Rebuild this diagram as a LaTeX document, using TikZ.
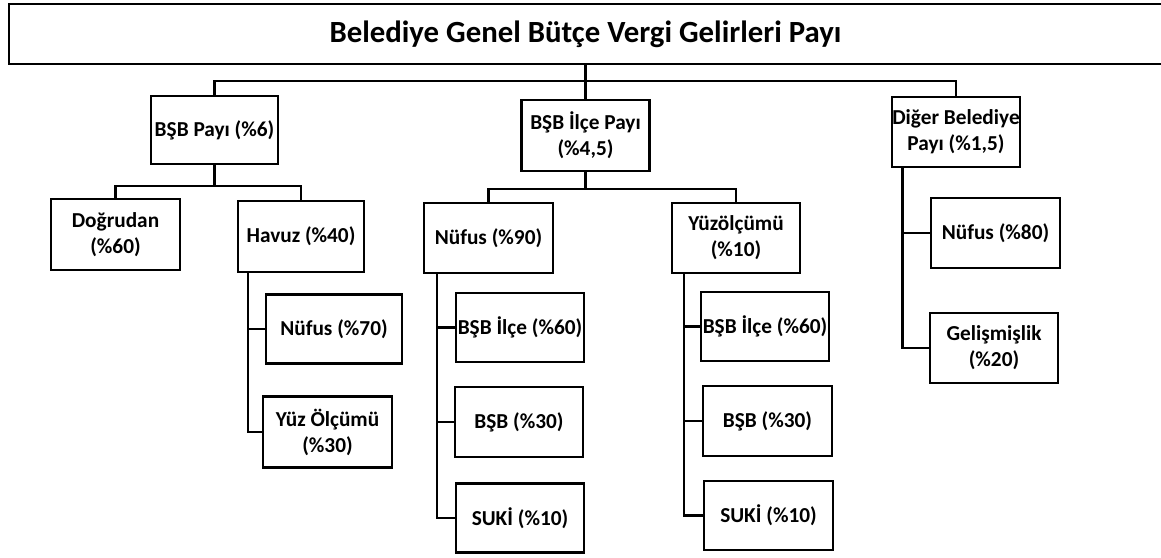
\documentclass[tikz,border=0pt]{standalone}
\usepackage{fontspec}
\setmainfont{Carlito}
\begin{document}
\begin{tikzpicture}[x=1pt,y=-1pt,
  box/.style={draw=black,line width=2.4pt,rectangle,inner sep=0.5pt,align=center,
    font=\fontsize{21.3}{26}\selectfont\bfseries,fill=white},
  conn/.style={draw=black,line width=2.2pt}]
\useasboundingbox (0,0) rectangle (1161,557);
\fill[white] (0,0) rectangle (1161,557);
% top
\node[box,minimum width=1153pt,minimum height=60pt,font=\fontsize{30.8}{36}\selectfont\bfseries] (top) at (585.5,34) {Belediye Genel Bütçe Vergi Gelirleri Payı};
% level 1
\node[box,minimum width=127pt,minimum height=68pt] (bsb) at (214.5,130) {BŞB Payı (\%6)};
\node[box,minimum width=128pt,minimum height=71pt] (ilce) at (585.5,135.5) {BŞB İlçe Payı\\(\%4,5)};
\node[box,minimum width=128pt,minimum height=70pt] (diger) at (956,132) {Diğer Belediye\\Payı (\%1,5)};
% under bsb
\node[box,minimum width=129pt,minimum height=71pt] (dog) at (115.5,234.5) {Doğrudan\\(\%60)};
\node[box,minimum width=126pt,minimum height=71pt] (havuz) at (301,236.5) {Havuz (\%40)};
\node[box,minimum width=136pt,minimum height=69pt] (nuf70) at (334,329) {Nüfus (\%70)};
\node[box,minimum width=129pt,minimum height=71pt] (yuz30) at (327.5,432) {Yüz Ölçümü\\(\%30)};
% under ilce
\node[box,minimum width=129pt,minimum height=70pt] (nuf90) at (488.5,238) {Nüfus (\%90)};
\node[box,minimum width=128pt,minimum height=70pt] (yuz10) at (736,238) {Yüzölçümü\\(\%10)};
\node[box,minimum width=128pt,minimum height=69pt] (a1) at (520,327.5) {BŞB İlçe (\%60)};
\node[box,minimum width=128pt,minimum height=70pt] (a2) at (519,422) {BŞB (\%30)};
\node[box,minimum width=128pt,minimum height=69pt] (a3) at (520,518) {SUKİ (\%10)};
\node[box,minimum width=128pt,minimum height=69pt] (b1) at (765,326.5) {BŞB İlçe (\%60)};
\node[box,minimum width=129pt,minimum height=70pt] (b2) at (767.5,421) {BŞB (\%30)};
\node[box,minimum width=129pt,minimum height=69pt] (b3) at (768.5,515.5) {SUKİ (\%10)};
% under diger
\node[box,minimum width=129pt,minimum height=70pt] (nuf80) at (995.5,233) {Nüfus (\%80)};
\node[box,minimum width=128pt,minimum height=70pt] (gel) at (994,348) {Gelişmişlik\\(\%20)};
% connectors
\coordinate (bus0) at (585.5,81);
\coordinate (bus1) at (214.5,186);
\coordinate (bus2) at (585.5,189);
\draw[conn] (top.south) -- (bus0) -| (bsb.north);
\draw[conn] (bus0) -| (diger.north);
\draw[conn] (bus0) -- (ilce.north);
\draw[conn] (bsb.south) -- (bus1) -| (dog.north);
\draw[conn] (bus1) -| (havuz.north);
\draw[conn] ([xshift=11pt]havuz.south west) |- (nuf70.west);
\draw[conn] ([xshift=11pt]havuz.south west) |- (yuz30.west);
\draw[conn] (ilce.south) -- (bus2) -| (nuf90.north);
\draw[conn] (bus2) -| (yuz10.north);
\draw[conn] ([xshift=14pt]nuf90.south west) |- (a1.west);
\draw[conn] ([xshift=14pt]nuf90.south west) |- (a2.west);
\draw[conn] ([xshift=14pt]nuf90.south west) |- (a3.west);
\draw[conn] ([xshift=13pt]yuz10.south west) |- (b1.west);
\draw[conn] ([xshift=13pt]yuz10.south west) |- (b2.west);
\draw[conn] ([xshift=13pt]yuz10.south west) |- (b3.west);
\draw[conn] ([xshift=12pt]diger.south west) |- (nuf80.west);
\draw[conn] ([xshift=12pt]diger.south west) |- (gel.west);
\end{tikzpicture}
\end{document}
